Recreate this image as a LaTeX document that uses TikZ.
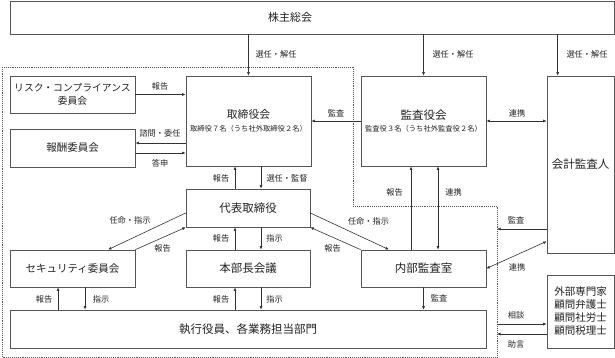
\documentclass[tikz,border=0pt]{standalone}
\usepackage{fontspec}
\setmainfont{Noto Sans CJK JP}
\usetikzlibrary{arrows.meta,calc}
\definecolor{boxc}{HTML}{555555}
\definecolor{arrc}{HTML}{333333}
\definecolor{txtc}{HTML}{222222}
\begin{document}
\begin{tikzpicture}[x=1pt,y=-1pt,
  box/.style={draw=boxc, line width=0.7pt, inner sep=0pt, align=center, text=txtc, font=\fontsize{11.5}{13}\selectfont},
  ttl/.style={inner sep=0pt, align=center, text=txtc, font=\fontsize{11}{13}\selectfont},
  arr/.style={draw=arrc, line width=0.6pt, -{Latex[length=3.5pt,width=3pt]}},
  darr/.style={draw=arrc, line width=0.6pt, {Latex[length=3.5pt,width=3pt]}-{Latex[length=3.5pt,width=3pt]}},
  lab/.style={font=\fontsize{8.2}{9}\selectfont, text=txtc, inner sep=0pt},
  bord/.style={draw=boxc, line width=0.7pt, dash pattern=on 0.8pt off 1.1pt}]
\useasboundingbox (0,0) rectangle (615,358);

% dotted border
\draw[bord] (2,67) -- (353,67) -- (353,206) -- (497,206) -- (497,357) -- (2,357) -- cycle;
\coordinate (bd1) at (497,229);
\coordinate (bd2) at (497,324);
\coordinate (bd3) at (497,334);

% boxes
\node[box, minimum width=604pt, minimum height=33pt] (sh) at (312,17.5) {};
\node[ttl] (shT) at (290,17.5) {株主総会};
\node[box, minimum width=125pt, minimum height=90pt] (tb) at (248.5,121)
  {\fontsize{10.8}{11}\selectfont 取締役会\\[-0.5pt]{\fontsize{7.3}{8}\selectfont 取締役７名（うち社外取締役２名）}};
\node[box, minimum width=125pt, minimum height=90pt] (ka) at (423.5,121)
  {\fontsize{11.5}{11}\selectfont 監査役会\\[-0.5pt]{\fontsize{7.3}{8}\selectfont 監査役３名（うち社外監査役２名）}};
\node[box, minimum width=67pt, minimum height=177pt] (kk) at (580.5,164.5) {会計監査人};
\node[box, minimum width=125pt, minimum height=37pt, font=\fontsize{9.8}{13}\selectfont] (risk) at (72.5,94.5) {リスク・コンプライアンス\\委員会};
\node[box, minimum width=125pt, minimum height=38pt, font=\fontsize{10.5}{13}\selectfont] (hou) at (72.5,148) {報酬委員会};
\node[box, minimum width=124pt, minimum height=38pt] (dai) at (248,208) {代表取締役};
\node[box, minimum width=124pt, minimum height=37pt] (hon) at (248,268.5) {本部長会議};
\node[box, minimum width=125pt, minimum height=37pt, font=\fontsize{10.5}{13}\selectfont] (sec) at (72.5,268.5) {セキュリティ委員会};
\node[box, minimum width=125pt, minimum height=37pt] (nai) at (423.5,268.5) {内部監査室};
\node[box, minimum width=476pt, minimum height=38pt] (shi) at (248,329) {執行役員、各業務担当部門};
\node[box, minimum width=67pt, minimum height=73pt, font=\fontsize{10.5}{13}\selectfont] (gai) at (580.5,311.5) {外部専門家\\顧問弁護士\\顧問社労士\\顧問税理士};

% shareholders arrows
\draw[arr] (sh.south -| tb.north) -- (tb.north);
\draw[arr] (sh.south -| ka.north) -- (ka.north);
\draw[arr] ($(kk.north west)+(11,0)$) coordinate (k1) (sh.south -| k1) -- (k1);
\node[lab] (l1) at (276,54) {選任・解任};
\node[lab] (l2) at (453,54) {選任・解任};
\node[lab] (l3) at (587,54) {選任・解任};

% committees
\draw[arr] (risk.east) -- (risk.east -| tb.west);
\node[lab] (l4) at (160,86) {報告};
\draw[arr] ($(tb.west)+(0,22)$) coordinate (t1) -- (t1 -| hou.east);
\node[lab] (l5) at (160,133) {諮問・委任};
\draw[arr] ($(hou.east)+(0,5)$) coordinate (h1) -- (h1 -| tb.west);
\node[lab] (l6) at (160,163) {答申};

% auditors
\draw[arr] (ka.west) -- (ka.west -| tb.east);
\node[lab] (l7) at (336,113) {監査};
\draw[darr] (ka.east) -- (ka.east -| kk.west);
\node[lab] (l8) at (517,113) {連携};

% board <-> representative
\draw[arr] ($(dai.north)+(-13,0)$) coordinate (d1) -- (d1 |- tb.south);
\draw[arr] ($(dai.north)+(13,0)$) coordinate (d2) (d2 |- tb.south) -- (d2);
\node[lab] (l9) at (221,178) {報告};
\node[lab] (l10) at (287,178) {選任・監督};

% representative <-> honbucho
\draw[arr] ($(hon.north)+(-13,0)$) coordinate (d3) -- (d3 |- dai.south);
\draw[arr] ($(hon.north)+(13,0)$) coordinate (d4) (d4 |- dai.south) -- (d4);
\node[lab] (l11) at (221,238) {報告};
\node[lab] (l12) at (274.5,238) {指示};

% honbucho <-> shikko
\draw[arr] ($(hon.south)+(-13,0)$) coordinate (d5) (d5 |- shi.north) -- (d5);
\draw[arr] ($(hon.south)+(13,0)$) coordinate (d6) -- (d6 |- shi.north);
\node[lab] (l13) at (221,299) {報告};
\node[lab] (l14) at (274.5,299) {指示};

% security <-> shikko
\draw[arr] ($(sec.south)+(-14.5,0)$) coordinate (d7) (d7 |- shi.north) -- (d7);
\draw[arr] ($(sec.south)+(12.5,0)$) coordinate (d8) -- (d8 |- shi.north);
\node[lab] (l15) at (44,299) {報告};
\node[lab] (l16) at (101,299) {指示};

% diagonal to security
\draw[arr] ($(dai.west)+(0,5)$) -- ($(sec.north)+(35.5,0)$);
\node[lab] (l17) at (130,220) {任命・指示};
\draw[arr] (sec.north east) -- (dai.south west);
\node[lab] (l18) at (162.5,248) {報告};

% diagonal to internal audit
\draw[arr] ($(dai.east)+(0,5)$) -- ($(nai.north)+(-34.5,0)$);
\node[lab] (l19) at (368.5,221) {任命・指示};
\draw[arr] (nai.north west) -- (dai.south east);
\node[lab] (l20) at (332.5,248) {報告};

% internal audit <-> kansayakukai
\draw[arr] ($(nai.north)+(-12.5,0)$) coordinate (d9) -- (d9 |- ka.south);
\draw[darr] ($(nai.north)+(14.5,0)$) coordinate (d10) -- (d10 |- ka.south);
\node[lab] (l21) at (394.5,192) {報告};
\node[lab] (l22) at (453.5,192) {連携};

% internal audit -> shikko
\draw[arr] (nai.south) -- (nai.south |- shi.north);
\node[lab] (l23) at (439,298) {監査};

% accounting auditor
\draw[arr] (bd1 -| kk.west) -- (bd1);
\node[lab] (l24) at (516,220) {監査};
\draw[darr] (nai.east) -- ($(kk.south west)+(0,-12)$);
\node[lab] (l25) at (517,267) {連携};

% external experts
\draw[arr] (bd2) -- (bd2 -| gai.west);
\node[lab] (l26) at (516,315) {相談};
\draw[arr] (bd3 -| gai.west) -- (bd3);
\node[lab] (l27) at (516,344) {助言};
\end{tikzpicture}
\end{document}
